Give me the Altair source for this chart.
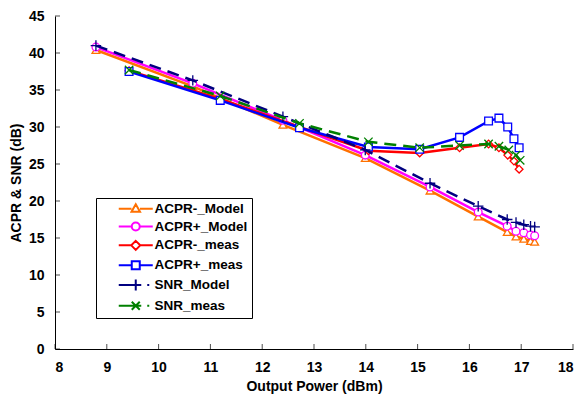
import altair as alt
import pandas as pd

# ---------------- data ----------------
series_names = ["ACPR-_Model", "ACPR+_Model", "ACPR-_meas", "ACPR+_meas", "SNR_Model", "SNR_meas"]

model_x = [8.79, 10.66, 12.40, 13.99, 15.24, 16.17, 16.73, 16.90, 17.05, 17.18, 17.26]
acpr_minus_model = [40.4, 35.5, 30.3, 25.8, 21.4, 17.9, 15.8, 15.2, 14.9, 14.6, 14.5]
acpr_plus_model = [40.8, 35.9, 30.9, 26.2, 21.9, 18.5, 16.6, 15.9, 15.7, 15.4, 15.3]
snr_model = [41.0, 36.3, 31.4, 26.9, 22.4, 19.3, 17.5, 17.1, 16.8, 16.6, 16.5]

meas_x = [9.43, 11.19, 12.72, 14.05, 15.04, 15.81, 16.37, 16.57, 16.74, 16.86, 16.96]
acpr_minus_meas = [37.6, 33.8, 30.0, 26.8, 26.5, 27.2, 27.7, 27.2, 26.2, 25.4, 24.3]
acpr_plus_meas = [37.5, 33.6, 29.9, 27.3, 27.0, 28.6, 30.8, 31.2, 30.0, 28.4, 27.2]

snr_meas_x = [9.43, 11.19, 12.72, 14.05, 15.04, 15.81, 16.37, 16.57, 16.76, 16.90, 16.98]
snr_meas = [37.7, 34.2, 30.5, 28.0, 27.2, 27.5, 27.7, 27.4, 26.9, 26.2, 25.5]

x_ticks = [8, 9, 10, 11, 12, 13, 14, 15, 16, 17, 18]
y_ticks = [0, 5, 10, 15, 20, 25, 30, 35, 40, 45]

# ---------------- styles ----------------
colors = ["#FF7000", "#FF00FF", "#FF0000", "#0000FF", "#000080", "#008000"]
dashes = [None, None, None, None, [12, 7], [12, 7]]
plot_shapes = [
    "triangle-up",
    "circle",
    "diamond",
    "square",
    "M-1,0H1M0,-1V1",
    "M-0.8,-0.8L0.8,0.8M-0.8,0.8L0.8,-0.8",
]
plot_sizes = [60, 60, 60, 60, 110, 110]

gap = "M-3.4,0H-0.85M0.85,0H3.4"
legend_paths = [
    gap + "M0,-0.9L0.85,0.6L-0.85,0.6Z",
    gap + "M0.8,0A0.8,0.8 0 1,1 -0.8,0A0.8,0.8 0 1,1 0.8,0Z",
    gap + "M0,-0.9L0.9,0L0,0.9L-0.9,0Z",
    gap + "M-0.8,-0.8H0.8V0.8H-0.8Z",
    "M-3.4,0H1.1M2.3,0H2.7M0,-1.1V1.1",
    "M-3.4,0H1.1M2.3,0H2.7M-0.8,-0.8L0.8,0.8M-0.8,0.8L0.8,-0.8",
]

xs = [model_x, model_x, meas_x, meas_x, model_x, snr_meas_x]
ys = [acpr_minus_model, acpr_plus_model, acpr_minus_meas, acpr_plus_meas, snr_model, snr_meas]

rows = []
for name, xv, yv in zip(series_names, xs, ys):
    for a, b in zip(xv, yv):
        rows.append({"series": name, "x": a, "y": b})
df = pd.DataFrame(rows)

FONT = "Liberation Sans"

x_scale = alt.Scale(domain=[8, 18], nice=False, zero=False)
y_scale = alt.Scale(domain=[0, 45], nice=False)
x_axis = alt.Axis(
    values=x_ticks, format="d", title="Output Power (dBm)", grid=False,
    ticks=False, tickSize=0, labelPadding=11, titlePadding=5, labelOverlap=False,
)
y_axis = alt.Axis(
    values=y_ticks, format="d", title="ACPR & SNR (dB)", grid=False,
    ticks=False, tickSize=0, labelPadding=11, titlePadding=5, labelOverlap=False,
)
x_enc = alt.X("x:Q", scale=x_scale, axis=x_axis)
y_enc = alt.Y("y:Q", scale=y_scale, axis=y_axis)

base = alt.Chart(df)
layers = []
for i, name in enumerate(series_names):
    sub = base.transform_filter(alt.datum.series == name)
    line_kw = dict(color=colors[i], strokeWidth=2.5)
    if dashes[i]:
        line_kw["strokeDash"] = dashes[i]
    layers.append(sub.mark_line(**line_kw).encode(x=x_enc, y=y_enc))
    layers.append(
        sub.mark_point(
            shape=plot_shapes[i], size=plot_sizes[i], filled=False, fill="white",
            stroke=colors[i], strokeWidth=1.3, opacity=1,
        ).encode(x=x_enc, y=y_enc)
    )

# inward tick marks
xt = alt.Chart(pd.DataFrame({"x": x_ticks, "y": [0] * len(x_ticks)})).mark_tick(
    orient="vertical", size=5, thickness=1, color="black", yOffset=-2.5
).encode(x=x_enc, y=y_enc)
yt = alt.Chart(pd.DataFrame({"y": y_ticks, "x": [8] * len(y_ticks)})).mark_tick(
    orient="horizontal", size=5, thickness=1, color="black", xOffset=2.5
).encode(y=y_enc, x=x_enc)

leg = alt.Legend(
    title=None, orient="none", legendX=41, legendY=182,
    strokeColor="black", padding=4, fillColor="white",
    symbolSize=100, symbolStrokeWidth=2, symbolOffset=29, symbolFillColor="white",
    labelOffset=12, rowPadding=1.8, labelFont=FONT, labelFontSize=13.5,
    labelFontWeight="bold", labelColor="black", labelLimit=200,
)
legend_layer = base.transform_filter("false").mark_point(
    filled=False, fill="white", strokeWidth=2, opacity=1
).encode(
    x=x_enc,
    y=y_enc,
    shape=alt.Shape("series:N", scale=alt.Scale(domain=series_names, range=legend_paths), legend=leg, sort=series_names),
    stroke=alt.Stroke("series:N", scale=alt.Scale(domain=series_names, range=colors), legend=leg, sort=series_names),
)

chart = alt.layer(*layers, xt, yt, legend_layer).properties(
    width=518, height=333,
    padding={"left": 47, "top": 8, "right": 6, "bottom": 45},
    autosize="none",
).configure_view(stroke=None).configure_axis(
    domainColor="black", domainWidth=1, labelOverlap=False,
    labelFont=FONT, labelFontSize=14, labelFontWeight="bold", labelColor="black",
    titleFont=FONT, titleFontSize=14, titleFontWeight="bold", titleColor="black",
)

chart.save("out.html", embed_options={"renderer": "svg", "actions": False})
